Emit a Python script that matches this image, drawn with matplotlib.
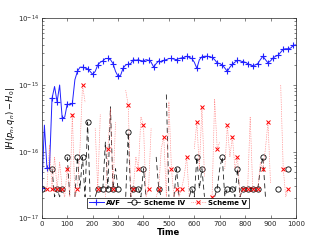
import numpy as np
import matplotlib
matplotlib.use("Agg")
import matplotlib.pyplot as plt

n = None

# time grid (every 10 time units)
t = np.arange(0, 1001, 10)

# AVF energy error
avf = [2.8e-17, 2.5e-16, 5.7e-17, 5.7e-17, 6.3e-16, 9.5e-16, 5.6e-16, 1.0e-15, 3.2e-16, 3.3e-16,
       5.2e-16, 5.0e-16, 5.3e-16, 1.2e-15, 1.6e-15, 1.85e-15, 1.85e-15, 1.8e-15, 1.75e-15, 1.6e-15,
       1.45e-15, 1.6e-15, 2.0e-15, 2.2e-15, 2.3e-15, 2.5e-15, 2.5e-15, 2.4e-15, 2.1e-15, 1.6e-15,
       1.35e-15, 1.4e-15, 1.8e-15, 2.0e-15, 2.05e-15, 2.1e-15, 2.4e-15, 2.35e-15, 2.4e-15, 2.3e-15,
       2.3e-15, 2.4e-15, 2.35e-15, 2.2e-15, 1.86e-15, 2.1e-15, 2.3e-15, 2.2e-15, 2.35e-15, 2.4e-15,
       2.5e-15, 2.5e-15, 2.45e-15, 2.4e-15, 2.5e-15, 2.55e-15, 2.6e-15, 2.7e-15, 2.6e-15, 2.5e-15,
       2.2e-15, 1.78e-15, 2.4e-15, 2.65e-15, 2.7e-15, 2.7e-15, 2.65e-15, 2.6e-15, 2.4e-15, 2.15e-15,
       2.1e-15, 2.0e-15, 1.8e-15, 1.6e-15, 1.85e-15, 2.05e-15, 2.2e-15, 2.35e-15, 2.3e-15, 2.25e-15,
       2.2e-15, 2.1e-15, 2.0e-15, 1.95e-15, 2.0e-15, 2.1e-15, 2.4e-15, 2.7e-15, 2.4e-15, 2.15e-15,
       2.3e-15, 2.55e-15, 2.7e-15, 2.8e-15, 3.1e-15, 3.45e-15, 3.5e-15, 3.5e-15, 3.6e-15, 3.95e-15,
       4.0e-15]

# Scheme IV and Scheme V errors, in units of 1e-17 (None = exactly zero, not shown)
scheme4 = [2.78, n, n, n, 5.55, 2.1, 2.78, 2.1, 2.78, n,
           8.33, 2.1, n, 2.1, 8.33, 2.78, 8.33, 2.1, 27.8, 2.1,
           n, 2.1, 2.78, n, 2.78, 13.9, 2.78, 47, 2.78, 5.55,
           2.78, n, n, 2.1, 19.4, 2.1, 2.78, 2.78, 2.78, 2.1,
           5.55, 2.1, n, n, n, 8.33, 2.78, 2.1, n, 72,
           2.1, n, 2.1, 5.55, 2.1, n, n, n, 2.1, 2.78,
           2.1, 8.33, 2.78, 5.55, 2.1, n, n, n, 2.1, 2.78,
           5.55, 8.33, 2.1, 2.78, 2.78, 2.78, 2.1, 5.55, 2.1, 2.78,
           2.78, 2.78, 2.78, 2.78, 2.78, 2.78, 5.55, 8.33, 2.1, n,
           n, n, n, 2.78, n, n, n, 5.55, n, n,
           n]

scheme5 = [n, n, 2.78, 12.5, 2.78, 8.33, 2.78, 6.9, 2.78, 2.1,
           5.55, 2.1, 36, 2.1, 2.78, 11.1, 100, 55.5, n, n,
           n, 22.2, 2.78, 36, n, 2.1, 11.1, 44.4, 2.78, 27.8,
           n, n, n, 83, 50, 2.1, 2.78, 8.33, 5.55, 33.3,
           25, 2.1, 2.78, 22.2, n, 2.1, 2.78, 11.1, 16.7, 2.1,
           55.5, 5.55, 2.1, 2.78, 2.1, 2.78, 4.2, 8.33, 2.1, n,
           11.1, 27.8, 5.55, 47, 4.2, n, n, 2.1, 61, 11.1,
           13.9, n, 5.55, 25, 8.33, 16.7, 5.55, 8.33, 2.1, 2.78,
           2.78, 2.78, 33.3, 2.78, 2.78, 2.78, 6.9, 5.55, 11.1, 27.8,
           3.3, n, n, n, 100, 5.55, 2.1, 2.78, n, n,
           n]

labels = ["AVF", "Scheme \u2163", "Scheme \u2164"]
yticks = [1e-17, 1e-16, 1e-15, 1e-14]

s4 = np.array([np.nan if v is None else v for v in scheme4]) * 1e-17
s5 = np.array([np.nan if v is None else v for v in scheme5]) * 1e-17

# marker positions
marks = list(range(0, 49, 2)) + list(range(51, 100, 2))

fig = plt.figure(figsize=(3.27, 2.45), dpi=100)
ax = fig.add_axes([0.128, 0.109, 0.777, 0.816])

ax.plot(t, avf, color="#2020ff", lw=0.7, marker="+", ms=4.5, mew=0.8,
        markevery=marks, label=labels[0])
ax.plot(t, s4, color="#202020", lw=0.6, ls=(0, (6, 4)), marker="o", ms=3.8,
        mfc="none", mec="black", mew=0.6, markevery=marks, label=labels[1])
ax.plot(t, s5, color="#ff6a6a", lw=0.5, ls=(0, (1, 1.5)), marker="x", ms=3.5,
        mec="red", mew=0.7, markevery=marks, label=labels[2])

ax.set_yscale("log")
ax.set_yticks(yticks)
ax.set_ylim(1e-17, 1e-14)
ax.set_xlim(0, 1000)
ax.set_xticks(range(0, 1001, 100))
ax.tick_params(which="both", direction="in", top=True, right=True,
               labelsize=5, width=0.4, colors="#262626", pad=2)
ax.tick_params(which="major", length=2.5)
ax.tick_params(which="minor", length=1.5)
for s in ax.spines.values():
    s.set_linewidth(0.5)
    s.set_color("#262626")

ax.set_xlabel("Time", fontsize=6, fontweight="bold", labelpad=1)
ax.set_ylabel(r"$|H(p_n,q_n)-H_0|$", fontsize=6, labelpad=1)

leg = ax.legend(loc="lower center", bbox_to_anchor=(0.496, 0.035), ncol=3,
                prop={"weight": "bold", "size": 5},
                frameon=True, fancybox=False, edgecolor="black",
                handlelength=2.2, handletextpad=0.3, columnspacing=0.8,
                borderpad=0.3, numpoints=1, framealpha=1)
leg.get_frame().set_linewidth(0.5)

fig.savefig("out.png", dpi=100)
